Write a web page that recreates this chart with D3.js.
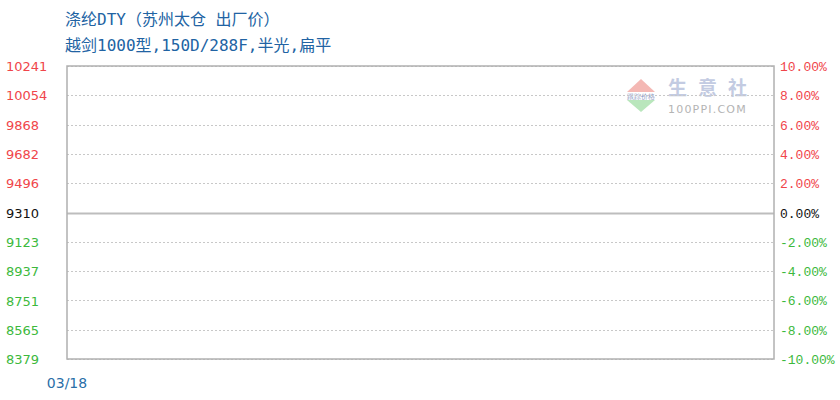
<!DOCTYPE html>
<html><head><meta charset="utf-8">
<script src="https://cdn.jsdelivr.net/npm/d3@7"></script>
<style>body{margin:0;background:#fff}svg{display:block}</style>
</head><body><svg id="c" width="840" height="400"></svg>
<script>
const titleLines = ["涤纶DTY（苏州太仓 出厂价）", "越剑1000型,150D/288F,半光,扁平"];
const dates = ["03/18"];
const prices = [9310];
const basePrice = 9310;
const leftTicks = [10241, 10054, 9868, 9682, 9496, 9310, 9123, 8937, 8751, 8565, 8379];
const rightTicks = [10, 8, 6, 4, 2, 0, -2, -4, -6, -8, -10];

const svg = d3.select("#c");
const L = 67, R = 774, T = 66, B = 359;
const y = d3.scaleLinear().domain([8379, 10241]).range([B, T]);
const yp = d3.scaleLinear().domain([-10, 10]).range([B, T]);
const x = d3.scalePoint().domain(dates).range([L, R]).align(0);

const red = "#f0454a", green = "#3cb93c", blue = "#2163a3";
const col = v => v > basePrice ? red : (v < basePrice ? green : "#111");
const colp = v => v > 0 ? red : (v < 0 ? green : "#111");

// title
svg.selectAll("text.title").data(titleLines).join("text")
  .attr("x", 65).attr("y", (d, i) => 25 + i * 26)
  .attr("fill", blue).attr("font-family", "'DejaVu Sans Mono', 'Noto Sans CJK SC', monospace")
  .attr("font-size", 16).text(d => d);

// watermark
const wm = svg.append("g").attr("transform", "translate(641,95)");
wm.append("path").attr("d", "M-14,-3 L0,-16 L14,-3 Z").attr("fill", "#f4b8b4");
wm.append("path").attr("d", "M-14,5 L0,17 L14,5 Z").attr("fill", "#b9e6bc");
wm.append("rect").attr("x", -12).attr("y", -3).attr("width", 24).attr("height", 8).attr("fill", "#fff");
wm.append("text").attr("x", 0).attr("y", 4).attr("text-anchor", "middle").attr("font-size", 7)
  .attr("font-family", "DejaVu Sans").attr("fill", "#8a9ac4").text("跟踪价格");
wm.append("text").attr("x", 27).attr("y", 0).attr("font-size", 19).attr("font-weight", "bold")
  .attr("font-family", "'Noto Sans CJK SC'").attr("letter-spacing", 11).attr("fill", "#c3cbe2").text("生意社");
wm.append("text").attr("x", 27).attr("y", 18).attr("font-size", 11).attr("letter-spacing", 1.2)
  .attr("font-family", "DejaVu Sans").attr("fill", "#b4b4b4").text("100PPI.COM");

// grid
const g = svg.append("g");
g.selectAll("line.grid").data(leftTicks).join("line")
  .attr("x1", L).attr("x2", R)
  .attr("y1", d => Math.round(y(d)) + 0.5).attr("y2", d => Math.round(y(d)) + 0.5)
  .attr("stroke", d => d === basePrice ? "#bdbdbd" : "#c8c8c8")
  .attr("stroke-width", d => d === basePrice ? 2 : 1)
  .attr("stroke-dasharray", d => d === basePrice ? null : "2,2");

// border
svg.append("rect").attr("x", L).attr("y", T).attr("width", R - L).attr("height", B - T)
  .attr("fill", "none").attr("stroke", "#b0b0b0").attr("stroke-width", 1.5);

// left axis labels
const la = d3.axisLeft(y).tickValues(leftTicks).tickSize(0).tickFormat(d3.format("d"));
const lg = svg.append("g").attr("transform", `translate(${L},0)`).call(la);
lg.select(".domain").remove();
lg.selectAll("text").attr("x", 6 - L).attr("text-anchor", "start").attr("dy", "0.35em")
  .attr("font-family", "DejaVu Sans").attr("font-size", 13).attr("fill", d => col(d));

// right axis labels
const ra = d3.axisRight(yp).tickValues(rightTicks).tickSize(0).tickFormat(d => d.toFixed(2) + "%");
const rg = svg.append("g").attr("transform", `translate(${R},0)`).call(ra);
rg.select(".domain").remove();
rg.selectAll("text").attr("x", 6).attr("dy", "0.35em")
  .attr("font-family", "'Liberation Mono', 'DejaVu Sans Mono', monospace").attr("font-size", 13)
  .attr("fill", d => colp(d));

// x axis labels
svg.selectAll("text.xl").data(dates).join("text").attr("class", "xl")
  .attr("x", d => x(d)).attr("y", 388).attr("text-anchor", "middle")
  .attr("font-family", "DejaVu Sans").attr("font-size", 14).attr("fill", "#2a6fa8").text(d => d);

// data line (single point)
const line = d3.line().x((d, i) => x(dates[i])).y(d => y(d));
svg.append("path").datum(prices).attr("d", line).attr("fill", "none").attr("stroke", "#1f5f99").attr("stroke-width", 1.5);
</script></body></html>
